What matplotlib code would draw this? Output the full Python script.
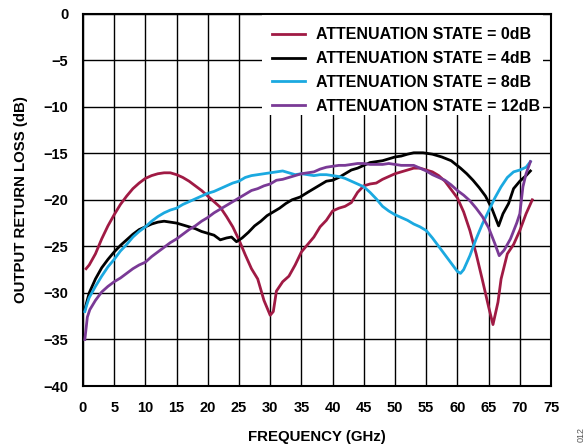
import matplotlib
matplotlib.use("Agg")
import matplotlib.pyplot as plt
from matplotlib.patches import Rectangle

plt.rcParams['font.family'] = ['Liberation Sans', 'DejaVu Sans']

# ---- data ----
f_0db = [0.5,1,2,3,4,5,6,7,8,9,10,11,12,13,14,15,16,17,18,19,20,21,22,23,24,25,26,27,28,29,30,30.5,31,32,33,34,35,36,37,38,39,40,41,42,43,44,45,46,47,48,49,50,51,52,53,54,55,56,57,58,59,60,61,62,63,64,65,65.7,66.5,67,68,69,70,71,72]
rl_0db = [-27.4,-27.0,-25.8,-24.2,-22.8,-21.6,-20.5,-19.6,-18.8,-18.2,-17.7,-17.4,-17.2,-17.1,-17.1,-17.3,-17.6,-18.0,-18.5,-19.0,-19.6,-20.2,-20.8,-21.8,-22.9,-24.3,-25.9,-27.4,-28.5,-30.8,-32.4,-32.0,-29.8,-28.8,-28.2,-27.0,-25.6,-24.8,-24.0,-22.9,-22.2,-21.2,-20.9,-20.7,-20.3,-19.2,-18.5,-18.3,-18.2,-17.8,-17.5,-17.2,-17.0,-16.8,-16.6,-16.6,-16.8,-17.0,-17.4,-18.0,-18.9,-19.8,-21.3,-23.3,-25.8,-28.6,-31.5,-33.4,-31.0,-28.5,-25.8,-24.8,-23.3,-21.5,-20.0]

f_4db = [0.3,0.6,1,2,3,4,5,6,7,8,9,10,11,12,13,14,15,16,17,18,19,20,21,22,23,23.8,24.6,25.5,26.5,27.5,28.5,29.5,30.5,31.5,32.5,33.5,34.8,36,37,38,39,40,41,42,43,44,45,46,47,48,49,50,51,52,53,54.5,56,57.5,59,60.5,61.5,62.5,63.5,64.5,65.5,66.6,67.3,68.2,69,70,71,71.7]
rl_4db = [-31.8,-31.0,-30.0,-28.5,-27.3,-26.4,-25.6,-24.9,-24.3,-23.7,-23.2,-22.9,-22.6,-22.4,-22.3,-22.4,-22.5,-22.7,-22.9,-23.1,-23.4,-23.6,-23.8,-24.3,-24.1,-24.0,-24.5,-24.1,-23.5,-22.8,-22.3,-21.7,-21.3,-20.9,-20.4,-20.0,-19.7,-19.2,-18.8,-18.4,-18.0,-17.9,-17.6,-17.2,-16.8,-16.6,-16.3,-16.0,-15.9,-15.8,-15.6,-15.4,-15.3,-15.1,-14.95,-14.95,-15.1,-15.4,-15.8,-16.6,-17.2,-17.9,-18.7,-19.6,-20.9,-22.8,-21.5,-20.4,-18.8,-18.0,-17.4,-16.9]

f_8db = [0.3,0.6,1,2,3,4,5,6,7,8,9,10,11,12,13,14,15,16,17,18,19,20,21,22,23,24,25,26,27,28,29,30,31,32,33,34,35,36,37,38,39,40,41,42,43,44,45,46,47,48,49,50,51,52,53,54,55,56,57,58,59,60,60.5,61,62,63,64,65,66,67,68,69,70,71,71.7]
rl_8db = [-32.0,-31.3,-30.5,-29.3,-28.2,-27.2,-26.4,-25.5,-24.8,-24.0,-23.4,-22.9,-22.3,-21.8,-21.4,-21.1,-20.9,-20.5,-20.2,-19.9,-19.6,-19.3,-19.1,-18.8,-18.5,-18.2,-18.0,-17.6,-17.4,-17.3,-17.2,-17.1,-17.0,-16.9,-17.1,-17.3,-17.2,-17.3,-17.4,-17.3,-17.3,-17.4,-17.5,-17.7,-18.0,-18.3,-18.6,-19.2,-19.9,-20.7,-21.2,-21.6,-21.9,-22.2,-22.6,-22.9,-23.3,-24.1,-25.0,-25.9,-26.8,-27.7,-27.9,-27.5,-26.0,-24.2,-22.6,-21.2,-19.8,-18.6,-17.6,-17.0,-16.8,-16.5,-15.9]

f_12db = [0.3,0.7,1.1,2,3,4,5,6,7,8,9,10,11,12,13,14,15,16,17,18,19,20,21,22,23,24,25,26,27,28,29,30,31,32,33,34,35,36,37,38,39,40,41,42,43,44,45,46,47,48,49,50,51,52,53,54,55,56,57,58,59,60,61,62,63,64,65,66,66.7,67.5,68.5,69.5,70,70.5,71,71.7]
rl_12db = [-35.0,-32.6,-31.8,-30.8,-29.9,-29.3,-28.8,-28.4,-27.9,-27.4,-27.0,-26.7,-26.1,-25.6,-25.1,-24.6,-24.2,-23.7,-23.2,-22.8,-22.3,-21.9,-21.4,-21.0,-20.6,-20.2,-19.8,-19.4,-19.0,-18.8,-18.5,-18.3,-17.9,-17.8,-17.6,-17.4,-17.2,-17.1,-17.0,-16.7,-16.5,-16.4,-16.3,-16.3,-16.2,-16.1,-16.1,-16.2,-16.2,-16.2,-16.1,-16.2,-16.3,-16.3,-16.3,-16.6,-16.9,-17.3,-17.6,-17.9,-18.4,-19.0,-19.5,-20.1,-20.9,-21.8,-23.0,-24.7,-26.0,-25.4,-24.2,-22.5,-21.5,-18.6,-17.2,-15.9]

labels = ["ATTENUATION STATE = 0dB", "ATTENUATION STATE = 4dB",
          "ATTENUATION STATE = 8dB", "ATTENUATION STATE = 12dB"]
x_ticks = list(range(0, 76, 5))
y_ticks = list(range(-40, 1, 5))

colors = ["#A01A44", "#000000", "#1BA9E0", "#7A3A96"]

fig = plt.figure(figsize=(5.86, 4.46), dpi=100)
ax = fig.add_axes([0.1416, 0.1345, 0.7987, 0.835])

series = [(f_0db, rl_0db), (f_4db, rl_4db), (f_8db, rl_8db), (f_12db, rl_12db)]
for (x, y), c, lab in zip(series, colors, labels):
    ax.plot(x, y, color=c, lw=2.0, label=lab, zorder=3, solid_joinstyle='round')

ax.set_xlim(0, 75)
ax.set_ylim(-40, 0)
ax.set_xticks(x_ticks)
ax.set_yticks(y_ticks)
ax.grid(True, color='black', lw=1.0, zorder=1)
ax.set_axisbelow(True)
for s in ax.spines.values():
    s.set_linewidth(1.5)
ax.tick_params(length=0, pad=10.5, labelsize=10.5)
for lbl in ax.get_xticklabels() + ax.get_yticklabels():
    lbl.set_fontweight('bold')

ax.set_xlabel("FREQUENCY (GHz)", fontsize=10.8, fontweight='bold', labelpad=11)
ax.set_ylabel("OUTPUT RETURN LOSS (dB)", fontsize=10.8, fontweight='bold')
ax.yaxis.set_label_coords(-0.118, 0.5)

# white legend background (covers grid)
ax.add_patch(Rectangle((0.3825, 0.7275), 0.6005, 0.2725, transform=ax.transAxes,
                       facecolor='white', edgecolor='none', zorder=2))

leg = ax.legend(loc='upper left', bbox_to_anchor=(0.4038, 0.9636), borderaxespad=0,
                frameon=False, prop={'weight': 'bold', 'size': 11.5},
                handlelength=2.05, handletextpad=0.7, labelspacing=0.56, borderpad=0)
leg.set_zorder(5)

fig.text(0.992, 0.025, "012", rotation=90, fontsize=6.5, color='#555555', ha='center', va='center')

fig.savefig("out.png", dpi=100)
